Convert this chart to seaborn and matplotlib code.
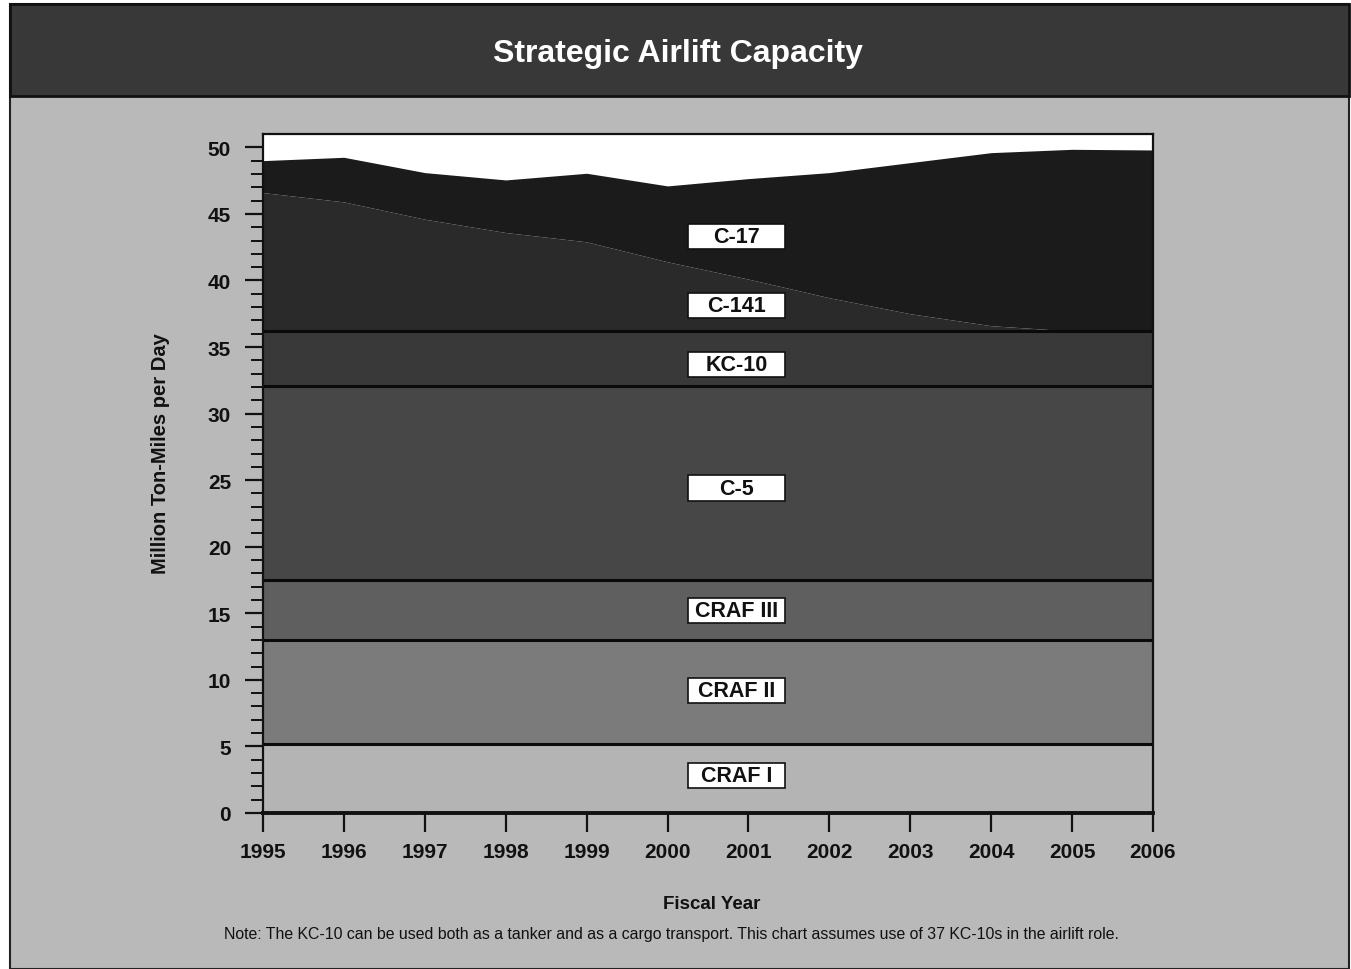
import numpy as np
import pandas as pd
import matplotlib
matplotlib.use("Agg")
import matplotlib.pyplot as plt
from matplotlib.patches import Rectangle
import seaborn as sns

# ---------------- data ----------------
years = [1995, 1996, 1997, 1998, 1999, 2000, 2001, 2002, 2003, 2004, 2005, 2006]
layer_names = ["CRAF I", "CRAF II", "CRAF III", "C-5", "KC-10", "C-141", "C-17"]
craf1 = [5.2] * 12
craf2 = [7.8] * 12
craf3 = [4.5] * 12
c5 = [14.6] * 12
kc10 = [4.1] * 12
c141 = [10.4, 9.7, 8.4, 7.4, 6.7, 5.2, 3.9, 2.5, 1.3, 0.4, 0.0, 0.0]
c17 = [2.4, 3.35, 3.5, 3.95, 5.15, 5.7, 7.55, 9.4, 11.35, 13.0, 13.65, 13.6]
label_y = [2.8, 9.2, 15.2, 24.4, 33.7, 38.1, 43.3]
yticks = [0, 5, 10, 15, 20, 25, 30, 35, 40, 45, 50]

title = "Strategic Airlift Capacity"
ylabel = "Million Ton-Miles per Day"
xlabel = "Fiscal Year"
note = ("Note: The KC-10 can be used both as a tanker and as a cargo transport. "
        "This chart assumes use of 37 KC-10s in the airlift role.")

# ---------------- style ----------------
sns.set_theme(style="ticks")
plt.rcParams['font.family'] = ['Liberation Sans', 'DejaVu Sans']

BG = "#b9b9b9"
colors = ["#b4b4b4", "#7b7b7b", "#5f5f5f", "#474747", "#393939", "#2a2a2a", "#1b1b1b"]

fig = plt.figure(figsize=(13.51, 9.70), dpi=100)
fig.patch.set_facecolor("white")

# panel background and title band
fig.patches.append(Rectangle((10 / 1351, 0), 1339 / 1351, 1 - 5 / 970,
                             transform=fig.transFigure, facecolor=BG,
                             edgecolor="#222222", linewidth=1.5, zorder=-2))
fig.patches.append(Rectangle((10 / 1351, 1 - 97 / 970), 1339 / 1351, 92 / 970,
                             transform=fig.transFigure, facecolor="#383838",
                             edgecolor="#111111", linewidth=2, zorder=-1))
fig.text(0.502, 1 - 54 / 970, title, color="white", fontsize=23,
         fontweight="bold", ha="center", va="center")

ax = fig.add_axes([263 / 1351, 1 - 814 / 970, 890 / 1351, 679 / 970])
ax.set_zorder(1)
ax.set_facecolor("white")

layers = [craf1, craf2, craf3, c5, kc10, c141, c17]
df = pd.DataFrame({n: v for n, v in zip(layer_names, layers)}, index=years)
cum = df.cumsum(axis=1)
x = np.array(years)
lower = np.zeros(len(years))
for i, name in enumerate(layer_names):
    upper = cum[name].values
    ax.fill_between(x, lower, upper, color=colors[i], linewidth=0, zorder=1)
    lower = upper

# boundary lines between layers
for name in layer_names[:5]:
    bd = pd.DataFrame({"year": years, "v": cum[name].values})
    sns.lineplot(data=bd, x="year", y="v", ax=ax, color="#0a0a0a",
                 linewidth=2.2, zorder=2, legend=False)

# labels in boxes
xc = 2000.85
bw, bh = 1.2, 1.9
for name, yl in zip(layer_names, label_y):
    ax.add_patch(Rectangle((xc - bw / 2, yl - bh / 2), bw, bh, facecolor="white",
                           edgecolor="#111111", linewidth=1.2, zorder=3))
    ax.text(xc, yl, name, ha="center", va="center", fontsize=15.5,
            fontweight="bold", color="#111111", zorder=4)

ax.set_xlim(1995, 2006)
ax.set_ylim(0, 51)
ax.set_xticks(years)
ax.set_xticklabels([str(y) for y in years])
ax.set_yticks(yticks)
ax.set_yticks(np.arange(0, 51, 1), minor=True)
ax.set_xlabel("")
ax.set_ylabel("")

ax.tick_params(axis="y", which="major", direction="out", length=13, width=1.6,
               pad=10, labelsize=15, colors="#111111")
ax.tick_params(axis="y", which="minor", direction="out", length=9, width=1.4,
               colors="#111111")
ax.tick_params(axis="x", which="major", direction="out", length=14, width=1.6,
               pad=7, labelsize=15, colors="#111111")
for lab in ax.get_xticklabels() + ax.get_yticklabels():
    lab.set_fontweight("bold")
    lab.set_color("#111111")

for side in ["left", "right", "top"]:
    ax.spines[side].set_linewidth(1.6)
    ax.spines[side].set_color("#111111")
ax.spines["bottom"].set_linewidth(2.8)
ax.spines["bottom"].set_color("#111111")
for s in ax.spines.values():
    s.set_zorder(5)

fig.text(160 / 1351, 1 - 454 / 970, ylabel, rotation=90, ha="center", va="center",
         fontsize=14.5, fontweight="bold", color="#111111")
fig.text(712 / 1351, 1 - 905 / 970, xlabel, ha="center", va="center",
         fontsize=13.5, fontweight="bold", color="#111111")
fig.text(671 / 1351, 1 - 935 / 970, note, ha="center", va="center",
         fontsize=11.4, color="#111111")

fig.savefig("out.png", dpi=100, facecolor=fig.get_facecolor())
